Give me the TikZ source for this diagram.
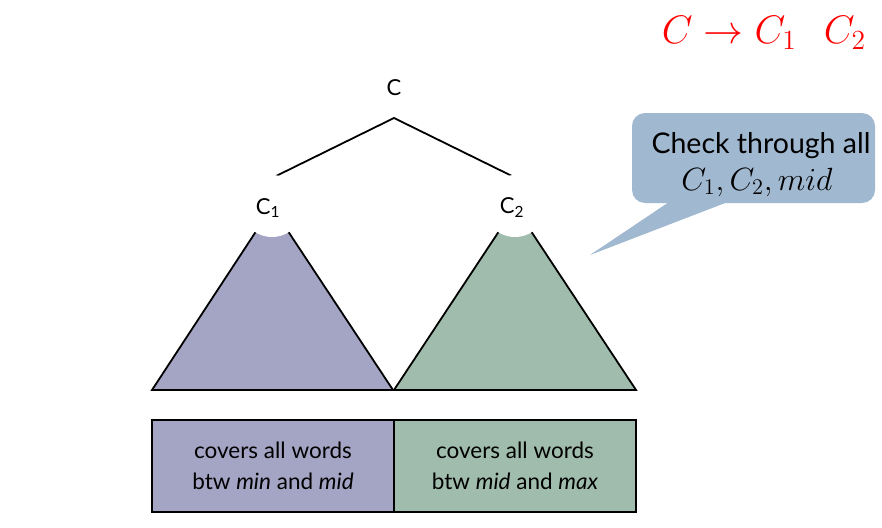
\documentclass[tikz,border=0pt]{standalone}
\usepackage{fontspec}
\setmainfont{Lato}
\definecolor{lpurple}{RGB}{164,164,196}
\definecolor{lgreen}{RGB}{160,188,172}
\definecolor{lblue}{RGB}{160,184,208}
\begin{document}
\begin{tikzpicture}[x=1pt,y=-1pt,
  edge/.style={line width=1.8pt, black},
  tri/.style={line width=1.8pt, draw=black, line join=miter},
  lab/.style={font=\fontsize{22}{24}\selectfont, inner sep=0pt},
  boxtxt/.style={font=\fontsize{22.5}{31}\selectfont, align=center, inner sep=0pt},
  cut/.style={fill=white}]
\useasboundingbox (0,0) rectangle (882,527);

% red rule
\node[text=red, font=\fontsize{20}{22}\selectfont, inner sep=0pt] (rule) at (764,33) {\scalebox{1.92}{$C \to C_1\hspace{0.7em}C_2$}};

% tree
\node[lab] (C) at (394,88) {C};
\coordinate (Ctop) at (394,118);
\coordinate (C1top) at (272,178);
\coordinate (C2top) at (516,178);
\draw[edge] (C1top) -- (Ctop) -- (C2top);

% triangles
\coordinate (L1) at (152,390);
\coordinate (R1) at (393,390);
\coordinate (A1) at (272,207);
\coordinate (L2) at (394,390);
\coordinate (R2) at (636,390);
\coordinate (A2) at (515,207);
\filldraw[tri, fill=lpurple] (L1) -- (A1) -- (R1) -- cycle;
\filldraw[tri, fill=lgreen] (L2) -- (A2) -- (R2) -- cycle;
\fill[cut] (272,206) circle (31);
\fill[cut] (515,206) circle (31);
\node[lab] (C1) at (268,208) {C\textsubscript{1}};
\node[lab] (C2) at (512,208) {C\textsubscript{2}};

% boxes
\node[draw=black, line width=1.8pt, fill=lpurple, minimum width=242pt, minimum height=92pt, inner sep=0pt] (B1) at (273,466) {};
\node[draw=black, line width=1.8pt, fill=lgreen, minimum width=242pt, minimum height=92pt, inner sep=0pt] (B2) at (515,466) {};
\node[boxtxt] (T1) at (B1.center) {covers all words\\btw \textit{min} and \textit{mid}};
\node[boxtxt] (T2) at (B2.center) {covers all words\\btw \textit{mid} and \textit{max}};

% callout
\fill[lblue, rounded corners=13pt] (632,113) rectangle (875,203);
\coordinate (tailL) at (672,200);
\coordinate (tailR) at (733,200);
\coordinate (tip) at (590,255);
\fill[lblue] (tailL) -- (tip) -- (tailR) -- cycle;
\node[font=\fontsize{28.5}{30}\selectfont, inner sep=0pt, anchor=base] (ck) at (761,153) {Check through all};
\node[font=\fontsize{20}{22}\selectfont, inner sep=0pt, anchor=base] (cm) at (757,190) {\scalebox{1.55}{$C_1, C_2, mid$}};
\end{tikzpicture}
\end{document}
